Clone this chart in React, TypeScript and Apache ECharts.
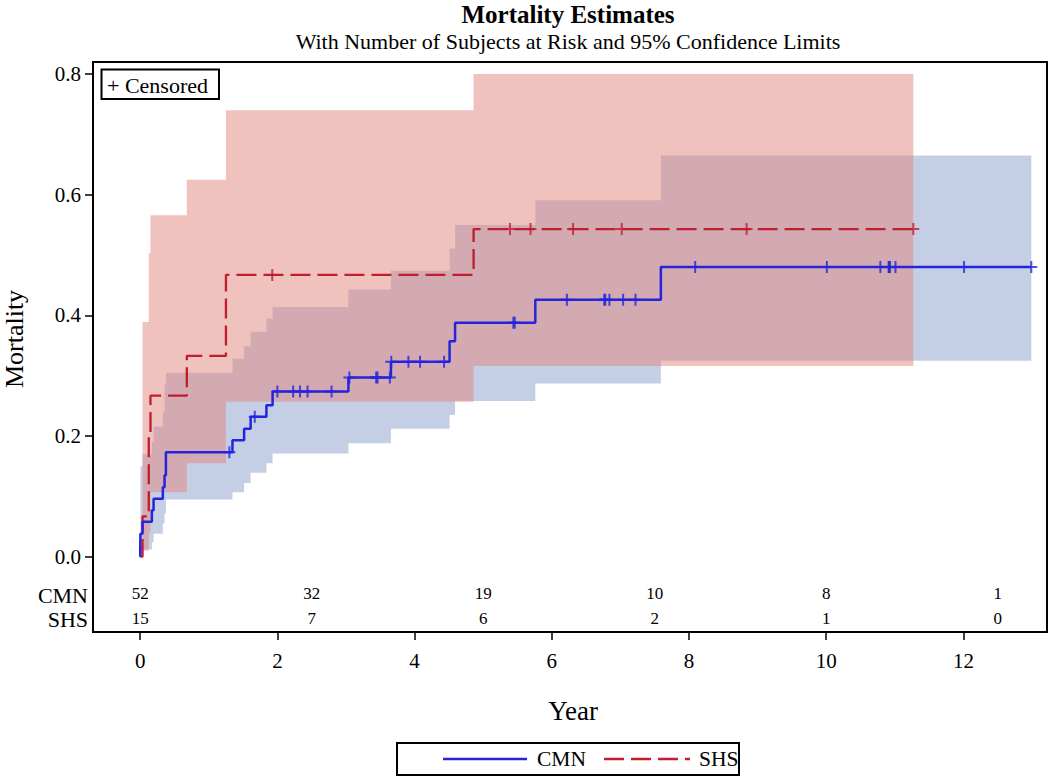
import React, { useEffect, useRef } from 'react';
import * as echarts from 'echarts';

// ---- data ----
const cmnTimes = [0, 0.003, 0.034, 0.17, 0.195, 0.33, 0.355, 0.375, 1.345, 1.515, 1.61, 1.84, 1.93, 3.035, 3.655, 4.51, 4.59, 5.76, 7.59];
const cmnMortality = [0, 0.038, 0.058, 0.077, 0.096, 0.115, 0.135, 0.173, 0.193, 0.212, 0.232, 0.251, 0.274, 0.297, 0.323, 0.357, 0.388, 0.426, 0.480];
const cmnLower = [0, 0.005, 0.012, 0.024, 0.038, 0.055, 0.071, 0.095, 0.107, 0.122, 0.139, 0.155, 0.171, 0.188, 0.212, 0.235, 0.258, 0.287, 0.325];
const cmnUpper = [0, 0.15, 0.17, 0.19, 0.216, 0.239, 0.285, 0.305, 0.328, 0.349, 0.373, 0.395, 0.414, 0.443, 0.474, 0.511, 0.55, 0.591, 0.665];
const cmnEnd = 12.99;
const cmnCensored = [1.3, 1.67, 2.0, 2.23, 2.33, 2.44, 2.79, 3.05, 3.44, 3.46, 3.64, 3.66, 3.91, 4.08, 4.43, 5.44, 5.46, 6.22, 6.765, 6.78, 6.84, 7.04, 7.22, 8.09, 10.01, 10.79, 10.91, 10.92, 10.93, 11.01, 12.01, 12.99];

const shsTimes = [0, 0.034, 0.125, 0.15, 0.68, 1.25, 4.86];
const shsMortality = [0, 0.067, 0.2, 0.267, 0.333, 0.467, 0.543];
const shsLower = [0, 0.01, 0.04, 0.107, 0.155, 0.257, 0.316];
const shsUpper = [0, 0.389, 0.503, 0.566, 0.625, 0.74, 0.8];
const shsEnd = 11.27;
const shsCensored = [1.925, 5.39, 5.69, 6.31, 7.02, 8.84, 11.27];

const xTicks = [0, 2, 4, 6, 8, 10, 12];
const yTicks = [0, 0.2, 0.4, 0.6, 0.8];
const riskTimes = [0, 2.5, 5, 7.5, 10, 12.5];
const cmnAtRisk = [52, 32, 19, 10, 8, 1];
const shsAtRisk = [15, 7, 6, 2, 1, 0];

// ---- styling ----
const SERIF = '"Liberation Serif", "Times New Roman", serif';
const BLUE = '#2424DC';
const RED = '#C01D2E';
const BLUE_BAND = 'rgba(137,159,205,0.5)';
const RED_BAND = 'rgba(225,133,125,0.5)';
const PLUS = 'path://M5,0H7V5H12V7H7V12H5V7H0V5H5Z';
const CMN_ROW = -0.0618;
const SHS_ROW = -0.1024;

function valueAt(times: number[], vals: number[], t: number) {
  let v = vals[0];
  for (let i = 0; i < times.length; i++) if (t >= times[i]) v = vals[i];
  return v;
}

function stepData(times: number[], vals: number[], end: number) {
  const d = times.map((t, i) => [t, vals[i]]);
  d.push([end, vals[vals.length - 1]]);
  return d;
}

function bandSeries(times: number[], lower: number[], upper: number[], end: number, color: string, z: number) {
  return {
    type: 'custom',
    silent: true,
    z,
    data: [[0, 0]],
    renderItem: (_p: any, api: any) => {
      const pts: number[][] = [];
      for (let i = 0; i < times.length; i++) {
        const t2 = i + 1 < times.length ? times[i + 1] : end;
        pts.push(api.coord([times[i], upper[i]]), api.coord([t2, upper[i]]));
      }
      for (let i = times.length - 1; i >= 0; i--) {
        const t2 = i + 1 < times.length ? times[i + 1] : end;
        pts.push(api.coord([t2, lower[i]]), api.coord([times[i], lower[i]]));
      }
      return { type: 'polygon', shape: { points: pts }, style: { fill: color } };
    },
  };
}

function riskSeries(counts: number[], row: number) {
  return {
    type: 'custom',
    silent: true,
    z: 6,
    clip: false,
    data: riskTimes.map((t, i) => [t, row, counts[i]]),
    renderItem: (_p: any, api: any) => {
      const pt = api.coord([api.value(0), api.value(1)]);
      return {
        type: 'text',
        x: pt[0],
        y: pt[1],
        style: {
          text: String(api.value(2)),
          fontSize: 17,
          fontFamily: SERIF,
          fill: '#000',
          align: 'center',
          verticalAlign: 'middle',
        },
      };
    },
  };
}

export default function App() {
  const ref = useRef<HTMLDivElement>(null);
  useEffect(() => {
    if (!ref.current) return;
    const chart = echarts.init(ref.current, undefined, { renderer: 'svg' });
    chart.setOption({
      animation: false,
      backgroundColor: '#fff',
      grid: {
        left: 93,
        right: 3,
        top: 62,
        bottom: 145,
        show: true,
        borderColor: '#000',
        borderWidth: 2,
      },
      xAxis: {
        type: 'value',
        min: -0.688,
        max: 13.219,
        axisLine: { show: true, onZero: false, lineStyle: { color: '#000', width: 2 } },
        axisTick: { show: true, customValues: xTicks, length: 8, lineStyle: { color: '#000', width: 1.5 } },
        axisLabel: { customValues: xTicks, color: '#000', fontFamily: SERIF, fontSize: 21, margin: 18 },
        splitLine: { show: false },
      },
      yAxis: {
        type: 'value',
        min: -0.1248,
        max: 0.82,
        axisLine: { show: true, onZero: false, lineStyle: { color: '#000', width: 2 } },
        axisTick: { show: true, customValues: yTicks, length: 8, lineStyle: { color: '#000', width: 1.5 } },
        axisLabel: {
          customValues: yTicks,
          color: '#000',
          fontFamily: SERIF,
          fontSize: 21,
          margin: 12,
          formatter: (v: number) => v.toFixed(1),
        },
        splitLine: { show: false },
      },
      graphic: [
        { type: 'text', x: 568, y: 14, style: { text: 'Mortality Estimates', font: `bold 25px ${SERIF}`, fill: '#000', textAlign: 'center', textVerticalAlign: 'middle' } },
        { type: 'text', x: 568, y: 41, style: { text: 'With Number of Subjects at Risk and 95% Confidence Limits', font: `22px ${SERIF}`, fill: '#000', textAlign: 'center', textVerticalAlign: 'middle' } },
        { type: 'text', x: 14, y: 339, rotation: Math.PI / 2, style: { text: 'Mortality', font: `26px ${SERIF}`, fill: '#000', textAlign: 'center', textVerticalAlign: 'middle' } },
        { type: 'text', x: 573, y: 711, style: { text: 'Year', font: `27px ${SERIF}`, fill: '#000', textAlign: 'center', textVerticalAlign: 'middle' } },
        { type: 'text', x: 88, y: 595, style: { text: 'CMN', font: `22px ${SERIF}`, fill: '#000', textAlign: 'right', textVerticalAlign: 'middle' } },
        { type: 'text', x: 88, y: 619, style: { text: 'SHS', font: `22px ${SERIF}`, fill: '#000', textAlign: 'right', textVerticalAlign: 'middle' } },
        { type: 'rect', shape: { x: 101.5, y: 69.5, width: 117.5, height: 29.5 }, style: { fill: '#fff', stroke: '#000', lineWidth: 2 }, z: 100 },
        { type: 'text', x: 107, y: 85, z: 101, style: { text: '+ Censored', font: `22px ${SERIF}`, fill: '#000', textAlign: 'left', textVerticalAlign: 'middle' } },
        { type: 'rect', shape: { x: 397, y: 743, width: 342, height: 32 }, style: { fill: '#fff', stroke: '#000', lineWidth: 2 } },
        { type: 'line', shape: { x1: 443, y1: 759, x2: 527, y2: 759 }, style: { stroke: BLUE, lineWidth: 2.5 } },
        { type: 'text', x: 537, y: 759, style: { text: 'CMN', font: `21.5px ${SERIF}`, fill: '#000', textAlign: 'left', textVerticalAlign: 'middle' } },
        { type: 'line', shape: { x1: 604, y1: 759, x2: 690, y2: 759 }, style: { stroke: RED, lineWidth: 2.5, lineDash: [20, 7] } },
        { type: 'text', x: 699, y: 759, style: { text: 'SHS', font: `21.5px ${SERIF}`, fill: '#000', textAlign: 'left', textVerticalAlign: 'middle' } },
      ],
      series: [
        bandSeries(cmnTimes, cmnLower, cmnUpper, cmnEnd, BLUE_BAND, 1),
        bandSeries(shsTimes, shsLower, shsUpper, shsEnd, RED_BAND, 2),
        {
          name: 'CMN',
          type: 'line',
          step: 'end',
          z: 5,
          showSymbol: false,
          data: stepData(cmnTimes, cmnMortality, cmnEnd),
          lineStyle: { color: BLUE, width: 2.5 },
          itemStyle: { color: BLUE },
        },
        {
          name: 'SHS',
          type: 'line',
          step: 'end',
          z: 4,
          showSymbol: false,
          data: stepData(shsTimes, shsMortality, shsEnd),
          lineStyle: { color: RED, width: 2.3, type: [20, 7] },
          itemStyle: { color: RED },
        },
        {
          type: 'scatter',
          z: 6,
          symbol: PLUS,
          symbolSize: 12,
          data: cmnCensored.map((t) => [t, valueAt(cmnTimes, cmnMortality, t)]),
          itemStyle: { color: BLUE },
          silent: true,
        },
        {
          type: 'scatter',
          z: 6,
          symbol: PLUS,
          symbolSize: 12,
          data: shsCensored.map((t) => [t, valueAt(shsTimes, shsMortality, t)]),
          itemStyle: { color: RED },
          silent: true,
        },
        riskSeries(cmnAtRisk, CMN_ROW),
        riskSeries(shsAtRisk, SHS_ROW),
      ],
    });
    return () => chart.dispose();
  }, []);
  return <div ref={ref} style={{ position: 'fixed', left: 0, top: 0, width: 1050, height: 777 }} />;
}
